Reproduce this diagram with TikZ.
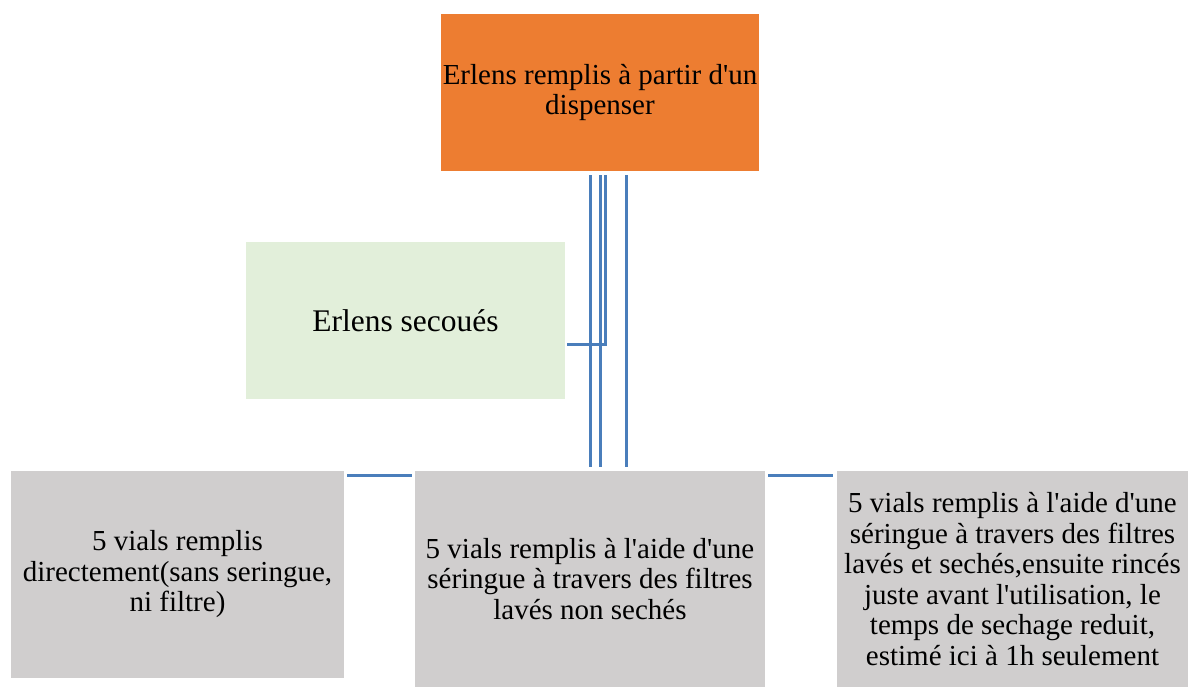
\documentclass[tikz,border=0pt]{standalone}
\usepackage{fontspec}
\setmainfont{Liberation Serif}
\definecolor{boxorange}{HTML}{ED7D31}
\definecolor{boxgreen}{HTML}{E2EFDA}
\definecolor{boxgrey}{HTML}{D0CECE}
\definecolor{linkblue}{HTML}{4A7EBB}
\newcommand{\apos}{\textquotesingle}
\tikzset{
  stage/.style={inner sep=0pt, align=center, font=\fontsize{29}{30.5}\selectfont},
  link/.style={draw=linkblue, line width=3pt}
}
\begin{document}
\begin{tikzpicture}[x=1pt, y=-1pt]
  \useasboundingbox (0,0) rectangle (1188,687);
  % Boxes
  \node[stage, fill=boxorange, minimum width=318pt, minimum height=157pt] (top) at (600,92.5)
    {Erlens remplis à partir d\apos un\\dispenser};
  \node[stage, fill=boxgreen, minimum width=319pt, minimum height=157pt,
    font=\fontsize{31.5}{33}\selectfont] (shake) at (405.5,320.5) {Erlens secoués};
  \node[stage, fill=boxgrey, minimum width=333pt, minimum height=207pt] (direct) at (177.5,574.5)
    {5 vials remplis\\directement(sans seringue,\\ni filtre)};
  \node[stage, fill=boxgrey, minimum width=350pt, minimum height=216pt] (wet) at (590,579)
    {5 vials remplis à l\apos aide d\apos une\\séringue à travers des filtres\\lavés non sechés};
  \node[stage, fill=boxgrey, minimum width=351pt, minimum height=216pt] (dry) at (1012.5,579)
    {5 vials remplis à l\apos aide d\apos une\\séringue à travers des filtres\\lavés et sechés,ensuite rincés\\juste avant l\apos utilisation, le\\temps de sechage reduit,\\estimé ici à 1h seulement};
  % Vertical connectors
  \draw[link] ([xshift=-10pt,yshift=-4pt]top.south) -- ([xshift=-10pt,yshift=4pt]top.south |- wet.north);
  \draw[link] ([yshift=-4pt]top.south) -- ([yshift=4pt]top.south |- wet.north);
  \draw[link] ([xshift=26pt,yshift=-4pt]top.south) -- ([xshift=26pt,yshift=4pt]top.south |- wet.north);
  % Branch to the shaken flasks
  \draw[link] ([xshift=5pt,yshift=-4pt]top.south) |- ([xshift=2pt,yshift=-23.5pt]shake.east);
  % Side connectors
  \draw[link] ([xshift=3pt,yshift=-5pt]direct.north east) -- ([xshift=-3pt,yshift=-5pt]wet.north west);
  \draw[link] ([xshift=3pt,yshift=-5pt]wet.north east) -- ([xshift=-4pt,yshift=-5pt]dry.north west);
\end{tikzpicture}
\end{document}
